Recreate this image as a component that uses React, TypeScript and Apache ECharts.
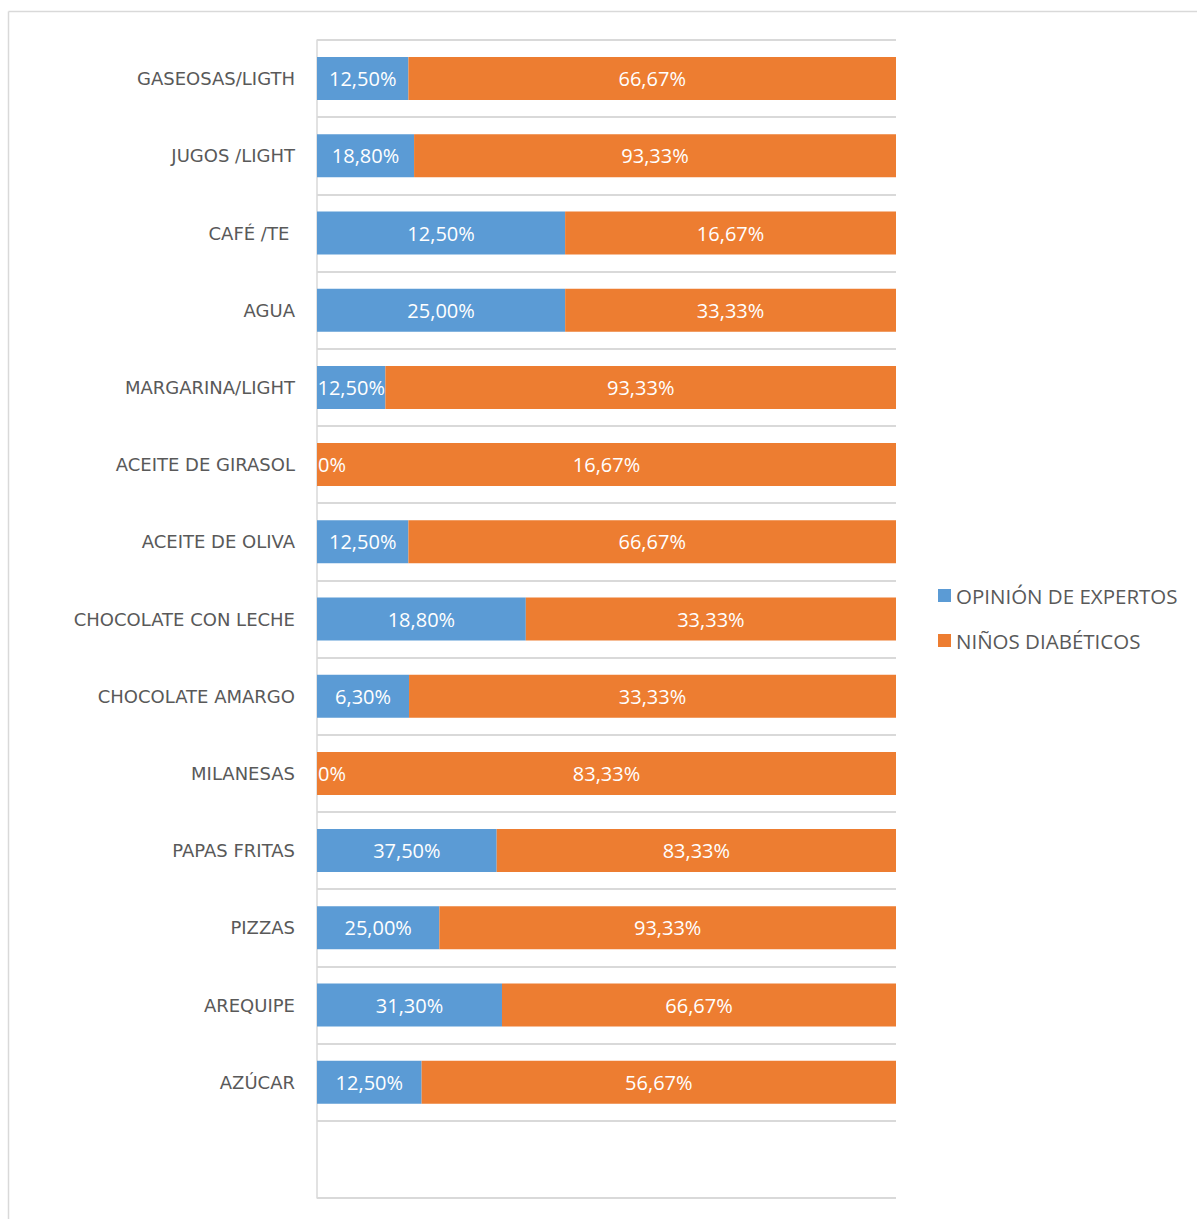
import React, { useEffect, useRef } from "react";
import * as echarts from "echarts";

const categories = [
  "GASEOSAS/LIGTH",
  "JUGOS /LIGHT",
  "CAFÉ /TE ",
  "AGUA",
  "MARGARINA/LIGHT",
  "ACEITE DE GIRASOL",
  "ACEITE DE OLIVA",
  "CHOCOLATE CON LECHE",
  "CHOCOLATE AMARGO",
  "MILANESAS",
  "PAPAS FRITAS",
  "PIZZAS",
  "AREQUIPE",
  "AZÚCAR",
  "",
];

const expertos = [12.5, 18.8, 12.5, 25.0, 12.5, 0, 12.5, 18.8, 6.3, 0, 37.5, 25.0, 31.3, 12.5];
const ninos = [66.67, 93.33, 16.67, 33.33, 93.33, 16.67, 66.67, 33.33, 33.33, 83.33, 83.33, 93.33, 66.67, 56.67];

const seriesNames = ["OPINIÓN DE EXPERTOS", "NIÑOS DIABÉTICOS"];
const colors = ["#5B9BD5", "#ED7D31"];

const fmt = (v: number) => (v === 0 ? "0%" : v.toFixed(2).replace(".", ",") + "%");

export default function App() {
  const ref = useRef<HTMLDivElement>(null);
  useEffect(() => {
    if (!ref.current) return;
    const chart = echarts.init(ref.current, undefined, { renderer: "svg" });
    const raw = [expertos, ninos];
    const makeData = (s: number) =>
      categories.map((_, i) => {
        if (i >= expertos.length) return null;
        const total = expertos[i] + ninos[i];
        const v = raw[s][i] / total;
        if (s === 0 && raw[s][i] === 0) {
          return { value: v, label: { position: "insideLeft", distance: 1 } };
        }
        return v;
      });
    chart.setOption({
      animation: false,
      grid: { left: 317, right: 301, top: 40, bottom: 21, containLabel: false },
      legend: {
        orient: "vertical",
        left: 933,
        top: 580,
        itemWidth: 13,
        itemHeight: 13,
        itemGap: 24,
        icon: "rect",
        textStyle: { color: "#595959", fontSize: 20.5, fontFamily: "Open Sans" },
        data: seriesNames,
      },
      xAxis: {
        type: "value",
        min: 0,
        max: 1,
        show: false,
      },
      yAxis: {
        type: "category",
        inverse: true,
        data: categories,
        axisLine: { show: true, lineStyle: { color: "#D9D9D9", width: 1.5 } },
        axisTick: { show: false },
        splitLine: { show: true, lineStyle: { color: "#D9D9D9", width: 2 } },
        axisLabel: {
          color: "#595959",
          fontSize: 18,
          fontFamily: "DejaVu Sans",
          margin: 22,
        },
      },
      series: [0, 1].map((s) => ({
        name: seriesNames[s],
        type: "bar",
        stack: "total",
        barWidth: 43,
        itemStyle: { color: colors[s] },
        label: {
          show: true,
          position: "inside",
          color: "#FFFFFF",
          fontSize: 20,
          fontFamily: "Open Sans",
          formatter: (p: any) => fmt(raw[s][p.dataIndex]),
        },
        data: makeData(s),
      })),
      graphic: [
        {
          type: "line",
          shape: { x1: 8.5, y1: 11.5, x2: 1197, y2: 11.5 },
          style: { stroke: "#D9D9D9", lineWidth: 1.5 },
        },
        {
          type: "line",
          shape: { x1: 8.5, y1: 11.5, x2: 8.5, y2: 1219 },
          style: { stroke: "#D9D9D9", lineWidth: 1.5 },
        },
      ],
    });
    return () => chart.dispose();
  }, []);
  return (
    <div
      ref={ref}
      style={{ position: "absolute", left: 0, top: 0, width: 1197, height: 1219 }}
    />
  );
}
